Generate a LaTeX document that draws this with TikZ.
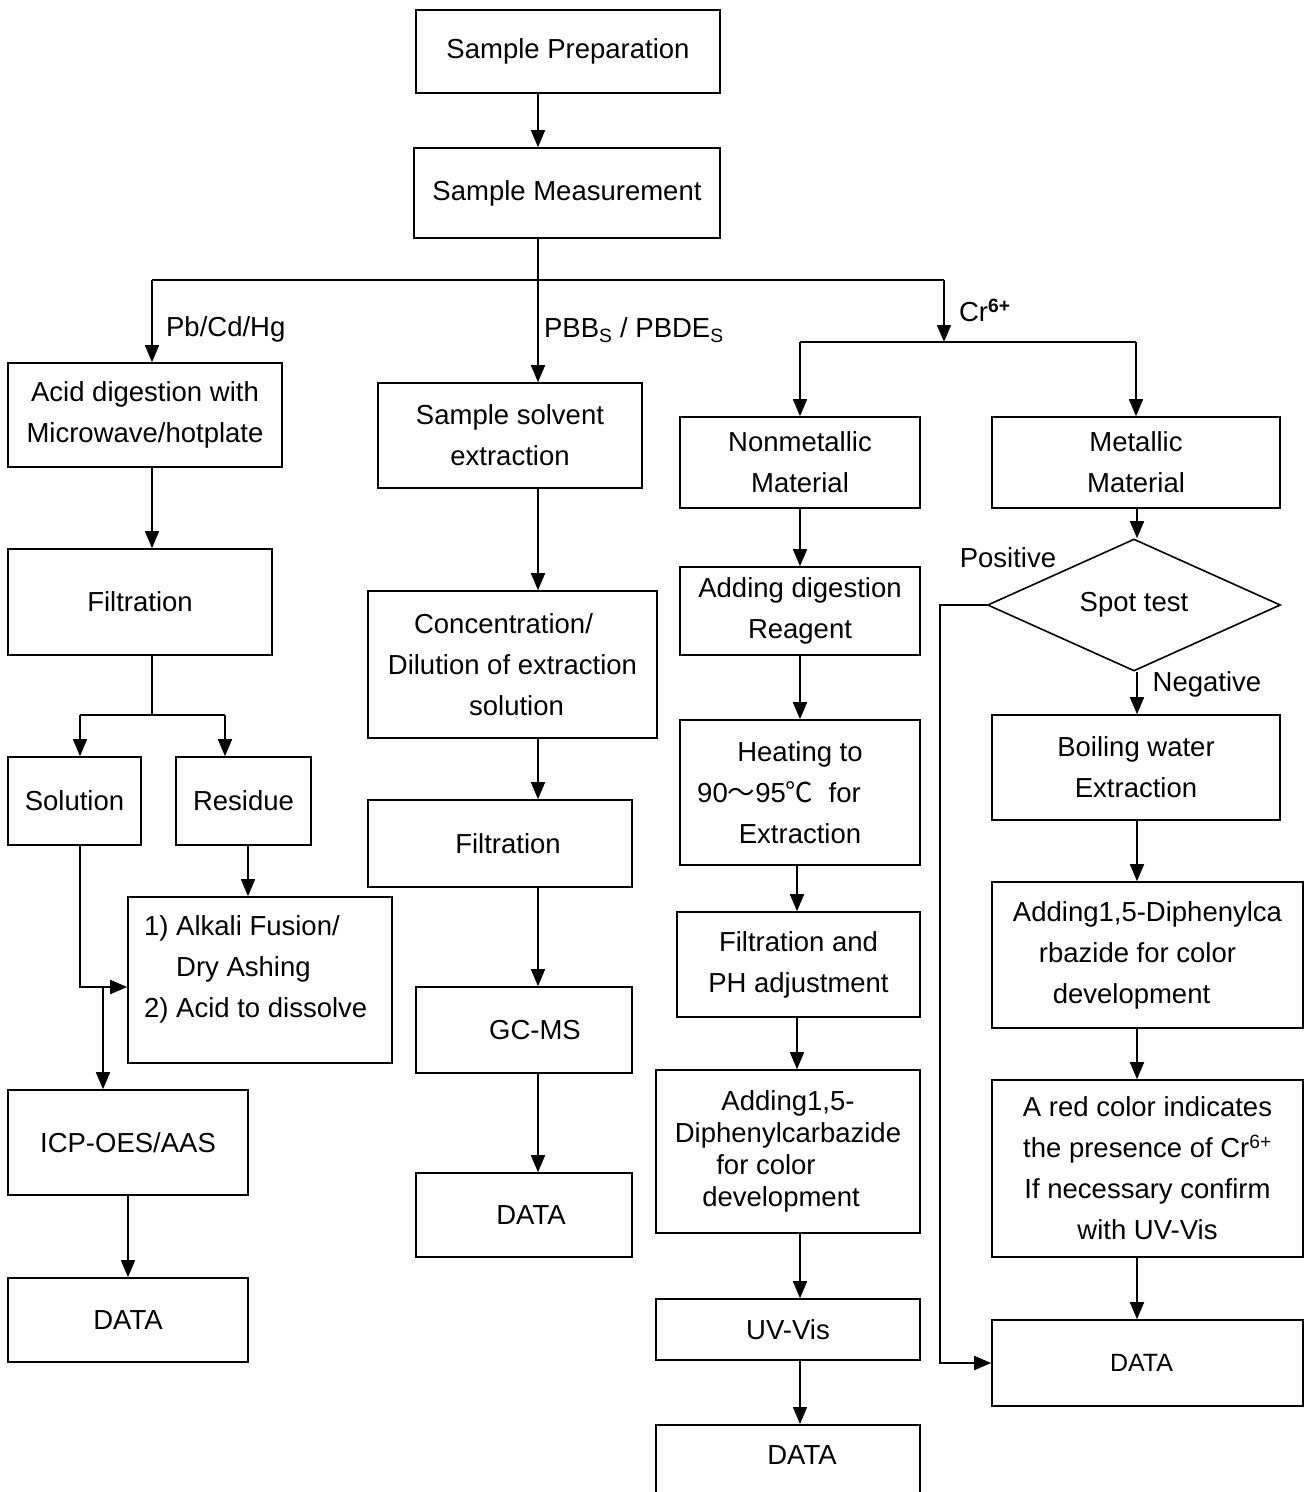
\documentclass[tikz,border=0pt]{standalone}
\usepackage{fontspec}
\setmainfont{Liberation Sans}
\newfontfamily\cjk{Noto Sans CJK SC}
\usetikzlibrary{arrows.meta, positioning, shapes, calc}

\begin{document}
\begin{tikzpicture}[x=1pt, y=-1pt, line width=1.6pt,
    every node/.style={font=\fontsize{27.5}{41}\selectfont},
    box/.style={draw, rectangle, align=center, inner sep=0pt},
    arr/.style={-{Triangle[length=17pt, width=14pt]}}]
    \useasboundingbox (0,0) rectangle (1304,1492);
    \clip (0,0) rectangle (1304,1492);

    % top
    \node[box, minimum width=304pt, minimum height=83pt] (prep) at (568,51.5) {Sample Preparation};
    \node[box, minimum width=306pt, minimum height=90pt] (meas) at (567,193) {Sample Measurement};

    % Pb/Cd/Hg
    \node[box, minimum width=274pt, minimum height=104pt] (acid) at (145,415) {Acid digestion with\\Microwave/hotplate};
    \node[box, minimum width=264pt, minimum height=106pt] (filta) at (140,602) {Filtration};
    \node[box, minimum width=133pt, minimum height=88pt] (sol) at (74.5,801) {Solution};
    \node[box, minimum width=135pt, minimum height=88pt] (res) at (243.5,801) {Residue};
    \node[box, minimum width=264pt, minimum height=166pt] (alk) at (260,980) {};
    \node[anchor=west, align=left] (alktxt) at (140,969) {1) Alkali Fusion/\\\phantom{1) }Dry Ashing\\2) Acid to dissolve};
    \node[box, minimum width=240pt, minimum height=105pt] (icp) at (128,1142.5) {ICP-OES/AAS};
    \node[box, minimum width=240pt, minimum height=84pt] (dataa) at (128,1320) {DATA};

    % PBBs / PBDEs
    \node[box, minimum width=264pt, minimum height=105pt] (sse) at (510,435.5) {Sample solvent\\extraction};
    \node[box, minimum width=289pt, minimum height=147pt] (conc) at (512.5,664.5) {Concentration/\hspace*{18pt}\\Dilution of extraction\\\hspace*{8pt}solution};
    \node[box, minimum width=264pt, minimum height=87pt] (filtb) at (500,843.5) {\hspace*{16pt}Filtration};
    \node[box, minimum width=216pt, minimum height=86pt] (gcms) at (524,1030) {\hspace*{22pt}GC-MS};
    \node[box, minimum width=216pt, minimum height=84pt] (datab) at (524,1215) {\hspace*{14pt}DATA};

    % Cr6+ nonmetallic
    \node[box, minimum width=240pt, minimum height=91pt] (nonm) at (800,462.5) {Nonmetallic\\Material};
    \node[box, minimum width=240pt, minimum height=88pt] (adr) at (800,611) {Adding digestion\\Reagent};
    \node[box, minimum width=240pt, minimum height=145pt] (heat) at (800,792.5) {Heating to\\\hspace*{-42pt}90{\cjk ～}95{\cjk ℃}\ \ for\\Extraction};
    \node[box, minimum width=243pt, minimum height=105pt] (fph) at (798.5,964.5) {Filtration and\\PH adjustment};
    \node[box, minimum width=264pt, minimum height=163pt, font=\fontsize{27.5}{32}\selectfont] (addc) at (788,1151.5) {Adding1,5-\\Diphenylcarbazide\\\hspace*{-44pt}for color\\development\hspace*{14pt}};
    \node[box, minimum width=264pt, minimum height=61pt] (uv) at (788,1329.5) {UV-Vis};
    \node[box, anchor=north, minimum width=264pt, text height=30pt, text depth=50pt, inner ysep=10pt] (datac) at (788,1424) {\hspace*{28pt}DATA};

    % Cr6+ metallic
    \node[box, minimum width=288pt, minimum height=91pt] (met) at (1136,462.5) {Metallic\\Material};
    \node[draw, diamond, aspect=2.2, minimum width=293pt, minimum height=132pt, inner sep=0pt] (spot) at (1134,605) {Spot test};
    \node[box, minimum width=288pt, minimum height=105pt] (boil) at (1136,767.5) {Boiling water\\Extraction};
    \node[box, minimum width=311pt, minimum height=146pt] (dpc) at (1147.5,955) {Adding1,5-Diphenylca\\\hspace*{-20pt}rbazide for color\\development\hspace*{32pt}};
    \node[box, minimum width=311pt, minimum height=177pt] (red) at (1147.5,1168.5) {A red color indicates\\the presence of Cr\textsuperscript{6+}\\If necessary confirm\\with UV-Vis};
    \node[box, minimum width=311pt, minimum height=86pt, font=\fontsize{25}{30}\selectfont] (datad) at (1147.5,1363) {DATA\hspace*{12pt}};

    % labels
    \node[anchor=west] (lpb) at (162,329) {Pb/Cd/Hg};
    \node[anchor=west] (lpbb) at (540,330) {PBB\textsubscript{S} / PBDE\textsubscript{S}};
    \node[anchor=west] (lcr) at (955,310) {Cr\textsuperscript{\bfseries 6+}};
    \node (lpos) at (1008,558) {Positive};
    \node (lneg) at (1207,684) {Negative};

    % branch points
    \coordinate (split) at (538,280);
    \coordinate (lft) at (152,280);
    \coordinate (rgt) at (944,280);
    \coordinate (crbar) at (944,342);
    \coordinate (fsplit) at (152,715);
    \coordinate (solx) at (80,715);
    \coordinate (resx) at (225,715);
    \coordinate (resdn) at (248,0);
    \coordinate (solbend) at (80,987);
    \coordinate (icpx) at (103,987);
    \coordinate (c3) at (797,0);
    \coordinate (c4) at (1137,0);
    \coordinate (posx) at (940,0);

    \draw[arr] (prep.south -| split) -- (meas.north -| split);
    \draw (meas.south -| split) -- (split);
    \draw (lft) -- (rgt);
    \draw[arr] (lft) -- (lft |- acid.north);
    \draw[arr] (split) -- (split |- sse.north);
    \draw[arr] (rgt) -- (crbar);
    \draw (crbar -| nonm) -- (crbar -| met);
    \draw[arr] (crbar -| nonm) -- (nonm);
    \draw[arr] (crbar -| met) -- (met);

    \draw[arr] (acid.south -| lft) -- (filta.north -| lft);
    \draw (filta.south -| lft) -- (fsplit);
    \draw (solx) -- (resx);
    \draw[arr] (solx) -- (sol.north -| solx);
    \draw[arr] (resx) -- (res.north -| resx);
    \draw[arr] (res.south -| resdn) -- (alk.north -| resdn);
    \draw[arr] (sol.south -| solx) -- (solbend) -- (alk.west |- solbend);
    \draw[arr] (icpx) -- (icp.north -| icpx);
    \draw[arr] (icp) -- (dataa);

    \foreach \a/\b in {sse/conc, conc/filtb, filtb/gcms, gcms/datab}
        \draw[arr] (\a.south -| split) -- (\b.north -| split);

    \draw[arr] (nonm) -- (adr);
    \draw[arr] (adr) -- (heat);
    \foreach \a/\b in {heat/fph, fph/addc}
        \draw[arr] (\a.south -| c3) -- (\b.north -| c3);
    \draw[arr] (addc.south -| nonm) -- (uv.north -| nonm);
    \draw[arr] (uv.south -| nonm) -- (datac.north -| nonm);

    \foreach \a/\b in {met/spot, spot/boil, boil/dpc, dpc/red, red/datad}
        \draw[arr] (\a.south -| c4) -- (\b.north -| c4);
    \draw[arr] (spot.west) -- (spot.west -| posx) -- (posx |- datad.west) -- (datad.west);
\end{tikzpicture}
\end{document}
